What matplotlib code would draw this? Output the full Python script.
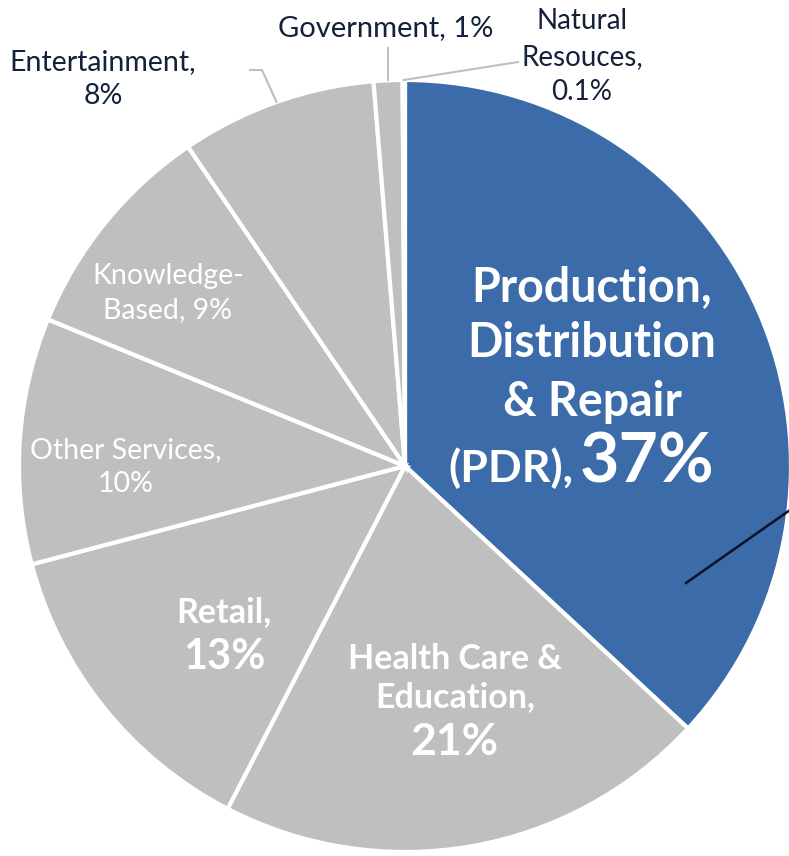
import matplotlib
matplotlib.use('Agg')
import matplotlib.pyplot as plt
import numpy as np

# employment share by sector, clockwise from 12 o'clock
sectors = ['Production, Distribution & Repair (PDR)', 'Health Care & Education', 'Retail',
           'Other Services', 'Knowledge-Based', 'Entertainment', 'Government', 'Natural Resouces']
shares = [36.9, 20.7, 13.3, 10.3, 9.3, 8.2, 1.2, 0.1]
pct_labels = ['37%', '21%', '13%', '10%', '9%', '8%', '1%', '0.1%']

BLUE = '#3B6BA8'
GREY = '#BFBFBF'
NAVY = '#13223A'
colors = [BLUE] + [GREY] * 7

plt.rcParams['font.family'] = ['Lato', 'DejaVu Sans']

W, H = 789, 856
fig = plt.figure(figsize=(W / 100, H / 100), dpi=100)
ax = fig.add_axes([0, 0, 1, 1])

cx, cy, R = 405, H - 466, 386
wedges, _ = ax.pie(shares, colors=colors, startangle=90, counterclock=False,
                   center=(cx, cy), radius=R, frame=True,
                   wedgeprops=dict(edgecolor='white', linewidth=3))
ax.set_xlim(0, W)
ax.set_ylim(0, H)
ax.axis('off')


def Y(y):
    return H - y


def edge_point(w, r=R):
    a = np.deg2rad((w.theta1 + w.theta2) / 2)
    return cx + r * np.cos(a), cy + r * np.sin(a)


def txt(x, y, s, size, color='white', weight='normal', ha='center'):
    ax.text(x, Y(y), s, fontsize=size, color=color, fontweight=weight,
            ha=ha, va='center')


# PDR label
txt(592, 287, 'Production,', 33.5, weight='bold')
txt(592, 343, 'Distribution', 33.5, weight='bold')
txt(592, 402, '& Repair', 33.5, weight='bold')
txt(573, 468, '(PDR),', 32, weight='bold', ha='right')
txt(580, 463, pct_labels[0], 49, weight='bold', ha='left')

# Health Care & Education
txt(455, 659, 'Health Care &', 24.5, weight='bold')
txt(455, 697, 'Education,', 24.5, weight='bold')
txt(454, 742, pct_labels[1], 32, weight='bold')

# Retail
txt(224, 612, 'Retail,', 24.5, weight='bold')
txt(224, 657, pct_labels[2], 30, weight='bold')

# Other Services / Knowledge-Based
txt(126, 450, 'Other Services,', 20.5)
txt(126, 484, pct_labels[3], 20.5)
txt(168, 276, 'Knowledge-', 20.5)
txt(168, 310, 'Based, ' + pct_labels[4], 20.5)

# outside labels
txt(103, 62, 'Entertainment,', 20.5, color=NAVY)
txt(103, 96, pct_labels[5], 20.5, color=NAVY)
txt(386, 28, 'Government, ' + pct_labels[6], 21, color=NAVY)
txt(582, 21, 'Natural', 20, color=NAVY)
txt(582, 57, 'Resouces,', 20, color=NAVY)
txt(582, 92, pct_labels[7], 20, color=NAVY)

# leader lines
ex, ey = edge_point(wedges[5])
ax.plot([ex, 262, 250], [ey, Y(70), Y(70)], color=GREY, lw=1.5)
gx, gy = edge_point(wedges[6])
ax.plot([gx, gx], [gy, Y(48)], color=GREY, lw=1.5)
nx, ny = edge_point(wedges[7])
ax.plot([nx, 518], [ny, Y(62)], color=GREY, lw=1.5)

# stray leader inside PDR slice
ax.plot([686, 800], [Y(583), Y(503)], color='#0A1422', lw=1.8)

fig.savefig('out.png', dpi=100)
